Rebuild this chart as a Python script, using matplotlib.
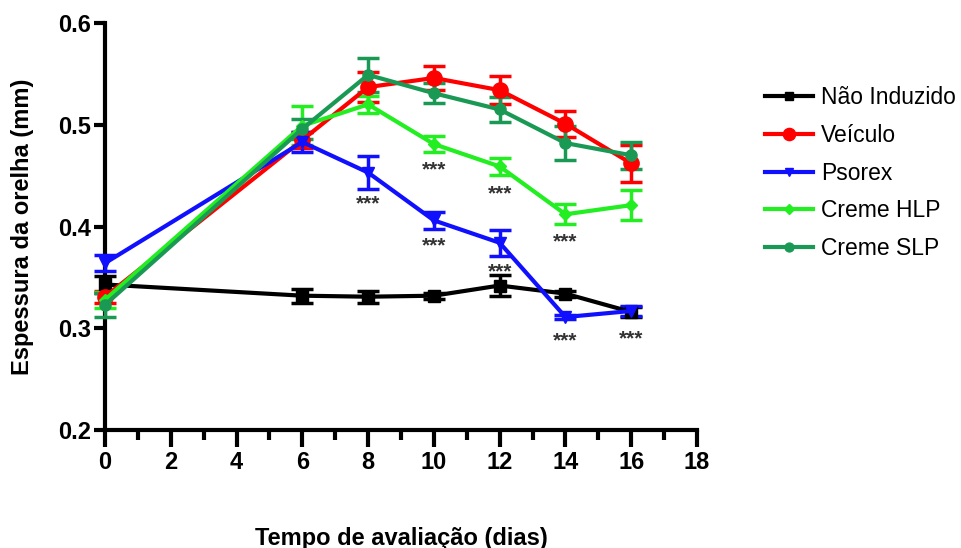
import matplotlib
matplotlib.use("Agg")
import matplotlib.pyplot as plt
from matplotlib.ticker import MultipleLocator
from matplotlib.lines import Line2D

plt.rcParams['font.family'] = ['Liberation Sans', 'DejaVu Sans']

days = [0, 6, 8, 10, 12, 14, 16]
nao_induzido = [0.343, 0.332, 0.331, 0.332, 0.342, 0.334, 0.316]
nao_induzido_err = [0.008, 0.007, 0.006, 0.003, 0.010, 0.003, 0.005]
veiculo = [0.331, 0.485, 0.537, 0.546, 0.534, 0.501, 0.462]
veiculo_err = [0.006, 0.008, 0.015, 0.012, 0.014, 0.013, 0.018]
psorex = [0.364, 0.483, 0.453, 0.406, 0.384, 0.311, 0.317]
psorex_err = [0.008, 0.010, 0.016, 0.008, 0.013, 0.002, 0.005]
creme_hlp = [0.328, 0.499, 0.520, 0.481, 0.459, 0.412, 0.421]
creme_hlp_err = [0.008, 0.019, 0.008, 0.008, 0.008, 0.010, 0.015]
creme_slp = [0.323, 0.496, 0.549, 0.531, 0.515, 0.482, 0.470]
creme_slp_err = [0.012, 0.010, 0.017, 0.010, 0.012, 0.017, 0.013]

labels = ['Não Induzido', 'Veículo', 'Psorex', 'Creme HLP', 'Creme SLP']
colors = ['#000000', '#ff0000', '#1010ff', '#22ee22', '#1a9955']
markers = ['s', 'o', 'v', 'D', 'o']
msizes = [8, 11, 8, 6, 8]

yticks = [0.2, 0.3, 0.4, 0.5, 0.6]
ytick_labels = ['0.2', '0.3', '0.4', '0.5', '0.6']
xticks = [0, 2, 4, 6, 8, 10, 12, 14, 16, 18]

# significance markers (day, y position)
sig_days = [8, 10, 10, 12, 12, 14, 14, 16]
sig_y = [0.422, 0.456, 0.381, 0.432, 0.355, 0.385, 0.288, 0.290]

fig = plt.figure(figsize=(9.61, 5.48), dpi=100)
ax = fig.add_axes([105/961, 1-430/548, (697-105)/961, (430-23)/548])

series = [(nao_induzido, nao_induzido_err), (veiculo, veiculo_err),
          (psorex, psorex_err), (creme_hlp, creme_hlp_err),
          (creme_slp, creme_slp_err)]
handles = []
for (vals, errs), lab, c, m, ms in zip(series, labels, colors, markers, msizes):
    ax.errorbar(days, vals, yerr=errs, color=c, marker=m, markersize=ms,
                lw=3, elinewidth=2.5, capsize=8, capthick=2.5,
                clip_on=False, zorder=3)
    handles.append(Line2D([], [], color=c, marker=m, markersize=ms*0.8,
                          lw=3, label=lab))

for d, y in zip(sig_days, sig_y):
    ax.text(d, y, '***', ha='center', va='center', fontsize=15,
            color='#333333', fontweight='bold')

ax.set_xlim(0, 18)
ax.set_ylim(0.2, 0.6)
ax.set_xticks(xticks)
ax.set_xticklabels([str(v) for v in xticks], fontweight='bold')
ax.xaxis.set_minor_locator(MultipleLocator(1))
ax.set_yticks(yticks)
ax.set_yticklabels(ytick_labels, fontweight='bold')
ax.spines['top'].set_visible(False)
ax.spines['right'].set_visible(False)
ax.spines['left'].set_linewidth(3)
ax.spines['bottom'].set_linewidth(3)
ax.tick_params(axis='x', which='major', length=12, width=3, direction='out',
               labelsize=17, pad=3)
ax.tick_params(axis='x', which='minor', length=7, width=3, direction='out')
ax.tick_params(axis='y', which='major', length=8, width=3, direction='out',
               labelsize=17, pad=2)

ax.set_xlabel('Tempo de avaliação (dias)', fontsize=17, fontweight='bold')
ax.xaxis.set_label_coords(0.5, -0.238)
ax.set_ylabel('Espessura da orelha (mm)', fontsize=17, fontweight='bold')
ax.yaxis.set_label_coords(-0.12, 0.5)

ax.legend(handles=handles, loc='upper left', bbox_to_anchor=(1.08, 0.895),
          frameon=False, fontsize=16.5, handlelength=2.1, handletextpad=0.35,
          labelspacing=0.64)

fig.savefig('out.png', dpi=100, facecolor='white')
